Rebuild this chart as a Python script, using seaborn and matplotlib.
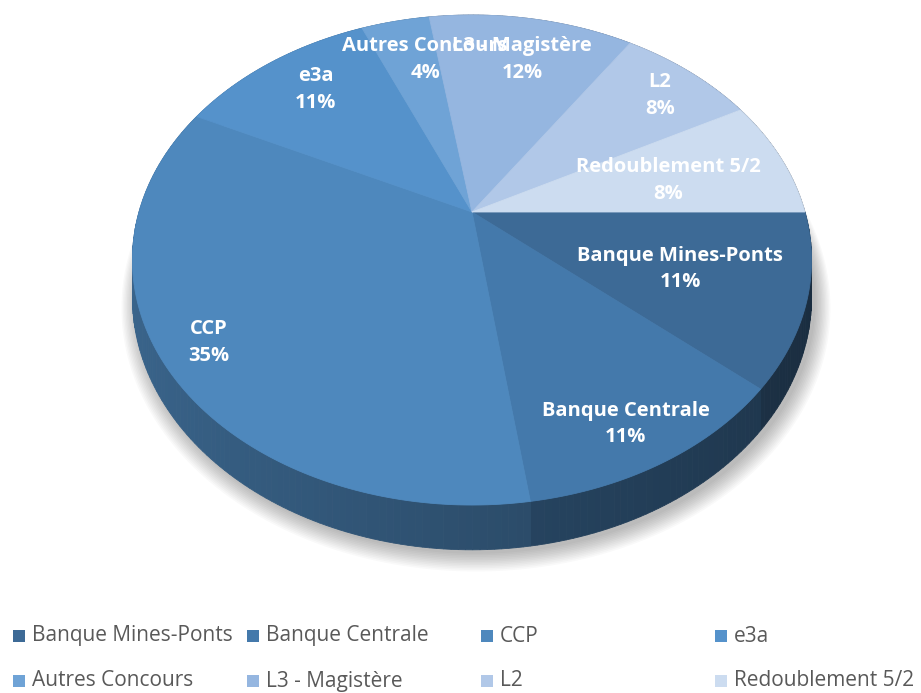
import matplotlib.pyplot as plt
import numpy as np
import seaborn as sns
from matplotlib.patches import Polygon, Rectangle

# data
categories = [
    "Banque Mines-Ponts",
    "Banque Centrale",
    "CCP",
    "e3a",
    "Autres Concours",
    "L3 - Magistère",
    "L2",
    "Redoublement 5/2",
]
counts = [29, 29, 88, 29, 10, 30, 20, 20]
slice_colors = [
    "#3d6a96", "#4479ab", "#4e88bd", "#5592cb",
    "#6fa3d6", "#95b6e0", "#b1c8e8", "#ccdcf0",
]

# layout of the in-slice labels: (radius on the disk, angle nudge in degrees)
label_layout = [
    (0.64, -0.7), (0.86, -1.4), (0.87, -1.0), (0.78, -1.3),
    (0.76, -3.6), (0.76, -0.7), (0.83, -1.1), (0.62, -1.4),
]

# 3D projection of the pie (pixel-like axes coordinates)
CX, CY = 472, 212
RX, RY = 333, 235.6
PERSP = 0.196
DEPTH = 36


def project(u, v, z=0.0):
    s = 1.0 / (1.0 + PERSP * v)
    return CX + RX * u * s, CY - RY * v * s + DEPTH * z * s


def arc(a0, a1, z=0.0, n=None):
    if n is None:
        n = max(int(abs(a1 - a0)) + 2, 3)
    t = np.radians(np.linspace(a0, a1, n))
    pts = [project(np.cos(a), np.sin(a), z) for a in t]
    return np.array(pts)


sns.set_theme(style="white")
plt.rcParams["font.family"] = ["Open Sans", "DejaVu Sans"]

palette = sns.color_palette(slice_colors)

fig = plt.figure(figsize=(9.21, 6.93), dpi=100)
ax = fig.add_axes([0, 0, 1, 1])
ax.set_xlim(0, 921)
ax.set_ylim(693, 0)
ax.axis("off")

total = float(sum(counts))
bounds = -np.concatenate([[0], np.cumsum(counts)]) / total * 360.0

# soft shadow under the pie
base = arc(0, 360, z=1.0, n=361)
cen = base.mean(axis=0)
for k in range(12):
    grow = 1.0 + 0.004 * k
    pts = (base - cen) * grow + cen + np.array([4, 4 + 0.5 * k])
    ax.add_patch(Polygon(pts, closed=True, facecolor="black", edgecolor="none",
                         alpha=0.025, zorder=1))

# outer walls, shaded from left (light) to right (dark)
for i, col in enumerate(palette):
    a0, a1 = bounds[i], bounds[i + 1]
    steps = np.linspace(a0, a1, max(int(abs(a1 - a0)), 2) + 1)
    for s0, s1 in zip(steps[:-1], steps[1:]):
        top = arc(s0, s1, 0.0, 2)
        bot = arc(s1, s0, 1.0, 2)
        um = np.cos(np.radians((s0 + s1) / 2))
        f = 0.58 - 0.16 * um
        c = tuple(np.clip(np.array(col) * f, 0, 1))
        ax.add_patch(Polygon(np.vstack([top, bot]), closed=True, facecolor=c,
                             edgecolor=c, linewidth=0.6, zorder=2))

# top faces
for i, col in enumerate(palette):
    pts = np.vstack([[project(0, 0)], arc(bounds[i], bounds[i + 1])])
    ax.add_patch(Polygon(pts, closed=True, facecolor=col, edgecolor=col,
                         linewidth=0.6, zorder=3))

# labels
for i, name in enumerate(categories):
    r, nudge = label_layout[i]
    mid = np.radians((bounds[i] + bounds[i + 1]) / 2 + nudge)
    x, y = project(r * np.cos(mid), r * np.sin(mid))
    pct = f"{counts[i] / total * 100:.0f}%"
    ax.text(x, y, f"{name}\n{pct}", ha="center", va="center", color="white",
            fontsize=14.5, fontweight="bold", linespacing=1.45, zorder=5)

# legend: 2 rows x 4 equal columns
for i, name in enumerate(categories):
    row, colno = divmod(i, 4)
    lx = 13 + colno * 234
    ly = 636 + row * 45
    ax.add_patch(Rectangle((lx, ly - 6), 12, 12, facecolor=palette[i],
                           edgecolor="none", zorder=5))
    ax.text(lx + 19, ly, name, ha="left", va="center", color="#595959",
            fontsize=15, zorder=5)

fig.savefig("out.png", dpi=100)
